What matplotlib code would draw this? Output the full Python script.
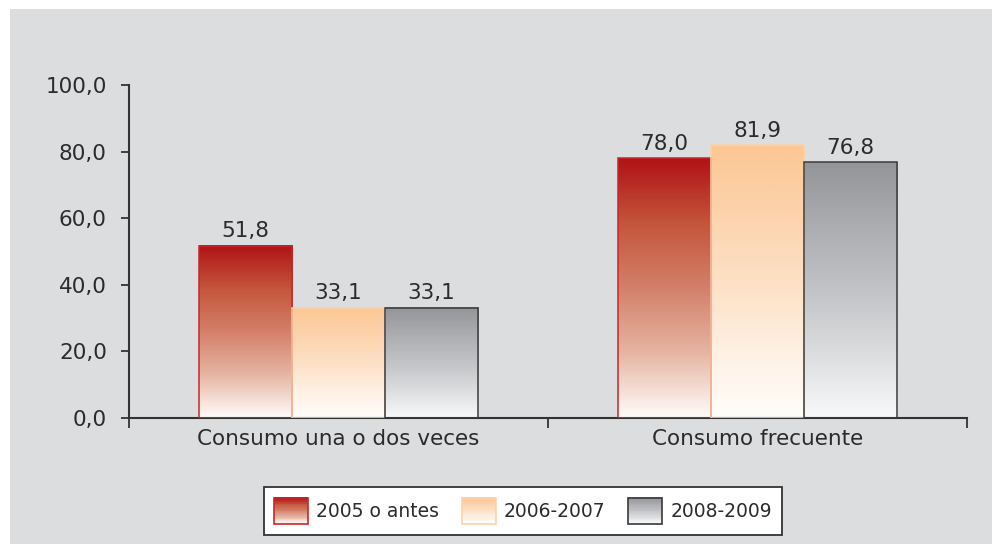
import numpy as np
import matplotlib
matplotlib.use("Agg")
from matplotlib import pyplot as plt
from matplotlib.patches import Rectangle
from matplotlib.colors import LinearSegmentedColormap
from matplotlib.legend_handler import HandlerBase

categories = ["Consumo una o dos veces", "Consumo frecuente"]
series = ["2005 o antes", "2006-2007", "2008-2009"]
values = [
    [51.8, 78.0],
    [33.1, 81.9],
    [33.1, 76.8],
]
labels = [
    ["51,8", "78,0"],
    ["33,1", "81,9"],
    ["33,1", "76,8"],
]
yticks = [0, 20, 40, 60, 80, 100]
ytick_labels = ["0,0", "20,0", "40,0", "60,0", "80,0", "100,0"]

# gradient stops (bottom -> top) and edge colour for each series
gradients = [
    ["#fffcfa", "#e6b5a2", "#d3806a", "#c4553b", "#b01216"],
    ["#fffdfb", "#fef0e2", "#fde0c5", "#fcd3ad", "#fcc794"],
    ["#f8f9fa", "#dcdddf", "#c1c3c6", "#abadb0", "#939598"],
]
edge_colors = ["#c8262b", "#fcd2ac", "#3a3a3a"]

plt.rcParams['font.family'] = ['DejaVu Sans']
text_color = "#2b2b2b"

fig = plt.figure(figsize=(9.92, 5.44), dpi=100)
fig.patch.set_facecolor("white")
fig.patches.append(Rectangle((10 / 992, 0), 1, 1 - 9 / 544, transform=fig.transFigure,
                             facecolor="#dcdddf", edgecolor="none", zorder=-10))

ax = fig.add_axes([129 / 992, 126 / 544, 838 / 992, 333 / 544])
ax.set_facecolor("none")

cmaps = [LinearSegmentedColormap.from_list("g%d" % i, g) for i, g in enumerate(gradients)]
grad = np.linspace(0, 1, 256).reshape(-1, 1)

width = 0.222
x = np.arange(len(categories))
for i in range(len(series)):
    pos = x + (i - 1) * width
    for j, p in enumerate(pos):
        v = values[i][j]
        ax.imshow(grad, cmap=cmaps[i], origin="lower", aspect="auto",
                  extent=(p - width / 2, p + width / 2, 0, v), zorder=2)
        ax.add_patch(Rectangle((p - width / 2, 0), width, v, facecolor="none",
                               edgecolor=edge_colors[i], linewidth=1.1, zorder=3))
        ax.text(p, v + 1.3, labels[i][j], ha="center", va="bottom",
                fontsize=15.5, color=text_color)

ax.set_xlim(-0.5, 1.5)
ax.set_ylim(0, 100)
ax.set_yticks(yticks)
ax.set_yticklabels(ytick_labels, fontsize=15.5, color=text_color)
ax.set_xticks(x)
ax.set_xticklabels(categories, fontsize=15.5, color=text_color)
ax.set_xticks([-0.5, 0.5, 1.5], minor=True)
ax.tick_params(axis="x", which="major", length=0, pad=8)
ax.tick_params(axis="x", which="minor", length=7, width=1.3, color="#333333")
ax.tick_params(axis="y", length=6, width=1.3, color="#333333", pad=10)
for s in ["top", "right"]:
    ax.spines[s].set_visible(False)
for s in ["left", "bottom"]:
    ax.spines[s].set_color("#333333")
    ax.spines[s].set_linewidth(1.5)


class GradientHandler(HandlerBase):
    def __init__(self, idx):
        super().__init__()
        self.idx = idx

    def create_artists(self, legend, orig_handle, xdescent, ydescent, width, height,
                       fontsize, trans):
        artists = []
        n = 30
        for k in range(n):
            c = cmaps[self.idx](1 - k / (n - 1))
            artists.append(Rectangle((-xdescent, -ydescent + height * (1 - (k + 1) / n)),
                                     width, height / n + 0.3, facecolor=c,
                                     edgecolor="none", transform=trans))
        artists.append(Rectangle((-xdescent, -ydescent), width, height, facecolor="none",
                                 edgecolor=edge_colors[self.idx], linewidth=1.2,
                                 transform=trans))
        return artists


handles = [Rectangle((0, 0), 1, 1) for _ in series]
leg = fig.legend(handles, series, loc="center", bbox_to_anchor=(523 / 992, 1 - 511 / 544),
                 ncol=3, fontsize=13.5, frameon=True, fancybox=False, framealpha=1,
                 handler_map={h: GradientHandler(i) for i, h in enumerate(handles)},
                 handlelength=1.8, handleheight=1.8, columnspacing=1.2, handletextpad=0.45,
                 borderpad=0.55, borderaxespad=0)
leg.get_frame().set_edgecolor("#333333")
leg.get_frame().set_facecolor("white")
leg.get_frame().set_linewidth(1.3)
for t in leg.get_texts():
    t.set_color(text_color)

fig.savefig("out.png", dpi=100)
